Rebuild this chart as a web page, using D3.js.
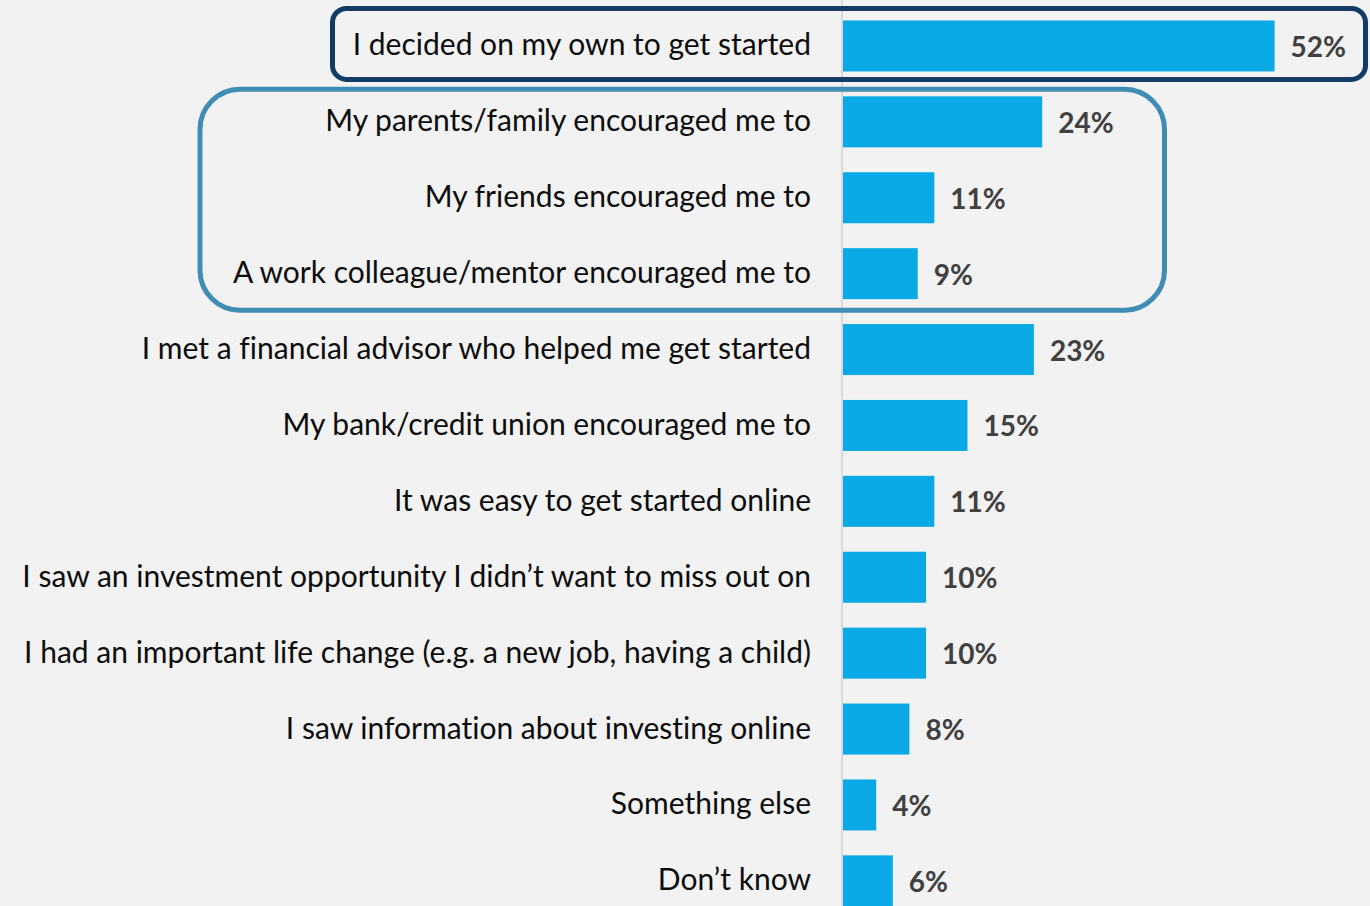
<!DOCTYPE html>
<html>
<head>
<meta charset="utf-8">
<script src="https://cdn.jsdelivr.net/npm/d3@7"></script>
<style>
  html, body { margin: 0; padding: 0; background: #f2f2f2; overflow: hidden; }
  svg { display: block; }
  text { font-variant-ligatures: none; font-feature-settings: "liga" 0, "clig" 0; }
</style>
</head>
<body>
<svg id="chart" width="1370" height="906"></svg>
<script>
// Reasons for starting to invest (% of respondents)
const categories = [
  "I decided on my own to get started",
  "My parents/family encouraged me to",
  "My friends encouraged me to",
  "A work colleague/mentor encouraged me to",
  "I met a financial advisor who helped me get started",
  "My bank/credit union encouraged me to",
  "It was easy to get started online",
  "I saw an investment opportunity I didn\u2019t want to miss out on",
  "I had an important life change (e.g. a new job, having a child)",
  "I saw information about investing online",
  "Something else",
  "Don\u2019t know"
];
const values = [52, 24, 11, 9, 23, 15, 11, 10, 10, 8, 4, 6];

// Highlighted groups: own decision, and encouragement by people close to them
const groupOwn = [0];
const groupPeople = [1, 2, 3];

const W = 1370, H = 906;
const svg = d3.select("#chart");
const fontFamily = "Lato, 'Open Sans', sans-serif";

const x0 = 843;
const x = d3.scaleLinear().domain([0, 60]).range([x0, x0 + 498]);
const pad = 0.328;
const y = d3.scaleBand()
  .domain(categories)
  .range([8, 8 + 12 * 75.9])
  .paddingInner(pad)
  .paddingOuter(pad / 2);

svg.append("rect").attr("width", W).attr("height", H).attr("fill", "#f2f2f2");

// Category axis line
svg.append("line")
  .attr("x1", x0 - 1).attr("x2", x0 - 1)
  .attr("y1", 0).attr("y2", H)
  .attr("stroke", "#d9d9d9").attr("stroke-width", 2);

// Bars
svg.append("g").selectAll("rect")
  .data(values)
  .join("rect")
  .attr("x", x(0))
  .attr("y", (d, i) => y(categories[i]))
  .attr("width", d => x(d) - x(0))
  .attr("height", y.bandwidth())
  .attr("fill", "#0aa9e6");

// Category labels, sized so the longest fits the label column
const labelRight = 811;
const labels = svg.append("g").selectAll("text")
  .data(categories)
  .join("text")
  .attr("x", labelRight)
  .attr("y", d => y(d) + y.bandwidth() / 2 + 9.5)
  .attr("text-anchor", "end")
  .attr("font-family", fontFamily)
  .attr("font-size", 100)
  .attr("fill", "#0d0d0d")
  .text(d => d);
const longest = d3.max(labels.nodes(), n => n.getComputedTextLength());
labels.attr("font-size", 100 * 789 / longest);

// Value labels
svg.append("g").selectAll("text")
  .data(values)
  .join("text")
  .attr("x", d => x(d) + 16)
  .attr("y", (d, i) => y(categories[i]) + y.bandwidth() / 2 + 11)
  .attr("font-family", fontFamily)
  .attr("font-weight", "bold")
  .attr("font-size", 28)
  .attr("fill", "#404040")
  .text(d => d + "%");

// Highlight frames
function frame(idx, left, right, padTop, padBottom, r, color) {
  const top = y(categories[idx[0]]) - padTop;
  const bottom = y(categories[idx[idx.length - 1]]) + y.bandwidth() + padBottom;
  svg.append("rect")
    .attr("x", left).attr("y", top)
    .attr("width", right - left).attr("height", bottom - top)
    .attr("rx", r).attr("ry", r)
    .attr("fill", "none")
    .attr("stroke", color)
    .attr("stroke-width", 5);
}
frame(groupPeople, 200, 1164.5, 7, 11, 40, "#3f8db3");
frame(groupOwn, 332.5, 1365.5, 12, 8, 14, "#123c63");
</script>
</body>
</html>
